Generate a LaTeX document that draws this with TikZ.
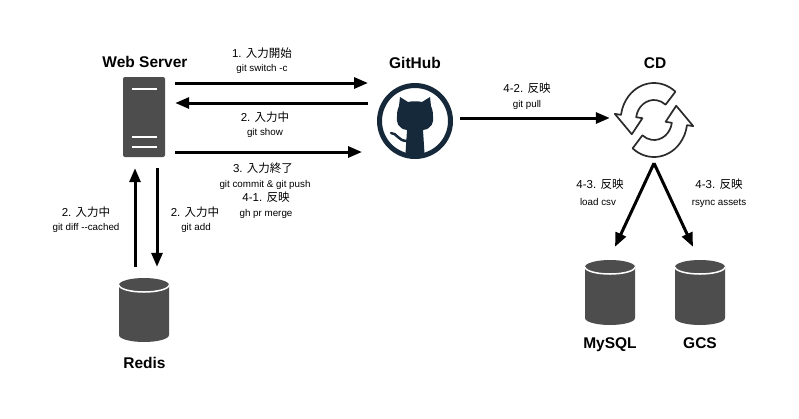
\documentclass[tikz,border=0pt]{standalone}
\usepackage{fontspec}
\setmainfont{Liberation Sans}
\newfontfamily\jpfont{Noto Sans CJK JP}
\usetikzlibrary{arrows.meta}
\definecolor{iconGray}{HTML}{4D4D4D}
\definecolor{ghNavy}{HTML}{16293A}
\definecolor{syncLine}{HTML}{2B2B2B}
\newcommand{\ja}[1]{{\jpfont #1}}

\tikzset{
  namelabel/.style={font=\bfseries\fontsize{15.5}{18}\selectfont, inner sep=0pt, text height=11pt, text depth=0pt},
  steplabel/.style={font=\fontsize{11.5}{14}\selectfont, inner sep=0pt, text height=8.3pt, text depth=0pt},
  cmdlabel/.style={font=\fontsize{9.8}{12}\selectfont, inner sep=0pt, text height=7pt, text depth=0pt},
  arr/.style={line width=3pt, -{Triangle[length=14pt,width=11pt]}},
  serverbox/.style={fill=iconGray, rounded corners=2pt, minimum width=42pt, minimum height=80pt, inner sep=0pt,
    path picture={
      \draw[white, line width=2.5pt] ([xshift=9pt,yshift=-12pt]path picture bounding box.north west) -- ++(25pt,0pt);
      \draw[white, line width=2.5pt] ([xshift=9pt,yshift=20pt]path picture bounding box.south west) -- ++(25pt,0pt);
      \draw[white, line width=2.5pt] ([xshift=9pt,yshift=10pt]path picture bounding box.south west) -- ++(25pt,0pt);
    }},
  dbbox/.style={minimum width=50pt, minimum height=64pt, inner sep=0pt,
    path picture={
      \fill[iconGray] ([yshift=-7pt]path picture bounding box.north west) -- ([yshift=7pt]path picture bounding box.south west)
        arc[start angle=180, end angle=360, x radius=25pt, y radius=7pt] -- ([yshift=-7pt]path picture bounding box.north east)
        arc[start angle=0, end angle=180, x radius=25pt, y radius=7pt] -- cycle;
      \draw[white, line width=1.5pt] ([yshift=-7pt]path picture bounding box.north west)
        arc[start angle=180, end angle=360, x radius=25pt, y radius=7pt];
    }},
  ghlogo/.style={circle, draw=ghNavy, line width=5pt, minimum size=71pt, inner sep=0pt,
    path picture={
      \fill[ghNavy, shift={(path picture bounding box.center)}, xshift=-2pt]
        (-8pt,-9pt) .. controls (-17pt,-8pt) and (-19pt,-1pt) .. (-18pt,5pt)
        .. controls (-18pt,10pt) and (-17pt,13pt) .. (-16pt,15pt) -- (-15pt,24pt) -- (-7pt,19pt)
        .. controls (-3pt,20pt) and (3pt,20pt) .. (7pt,19pt) -- (15pt,24pt) -- (16pt,15pt)
        .. controls (17pt,13pt) and (18pt,10pt) .. (18pt,5pt)
        .. controls (19pt,-1pt) and (17pt,-8pt) .. (8pt,-9pt) -- (10pt,-40pt) -- (-10pt,-40pt) -- cycle;
      \draw[ghNavy, line width=2.5pt, line cap=round, shift={(path picture bounding box.center)}, xshift=-2pt]
        (-24pt,-12pt) .. controls (-18pt,-12pt) and (-17pt,-20pt) .. (-8pt,-20pt);
    }},
  syncicon/.style={circle, minimum size=80pt, inner sep=0pt},
  syncarrow/.style={fill=white, draw=syncLine, line width=1.7pt, line join=round},
}

\begin{document}
\begin{tikzpicture}[x=1pt, y=1pt]
  \fill[white] (0,0) rectangle (799,-418);

  \node[namelabel] (wslabel) at (145,-62) {Web Server};
  \node[serverbox] (server) at (144,-117) {};
  \node[namelabel] (ghlabel) at (415,-63) {GitHub};
  \node[ghlogo] (github) at (415,-121) {};
  \node[namelabel] (cdlabel) at (655,-63) {CD};
  \node[syncicon] (cd) at (654,-120) {};
  \begin{scope}[shift={(cd.center)}, xscale=0.9]
    \filldraw[syncarrow] (50:37) arc[start angle=50, end angle=172, radius=37] -- (172:44) -- (210:28.5)
      -- (172:13) -- (172:20) arc[start angle=172, end angle=50, radius=20] -- cycle;
    \filldraw[syncarrow] (230:37) arc[start angle=230, end angle=352, radius=37] -- (352:44) -- (30:28.5)
      -- (352:13) -- (352:20) arc[start angle=352, end angle=230, radius=20] -- cycle;
  \end{scope}
  \node[dbbox] (redis) at (144,-310) {};
  \node[namelabel] (redislabel) at (144.5,-363) {Redis};
  \node[dbbox, minimum height=65pt] (mysql) at (610,-292.5) {};
  \node[namelabel] (mysqllabel) at (610,-343) {MySQL};
  \node[dbbox, minimum height=65pt] (gcs) at (700,-292.5) {};
  \node[namelabel] (gcslabel) at (700,-343) {GCS};

  \draw[arr] ([xshift=10pt,yshift=34pt]server.east) -- ([xshift=-9pt,yshift=38pt]github.west);
  \draw[arr] ([xshift=-9pt,yshift=18pt]github.west) -- ([xshift=10pt,yshift=14pt]server.east);
  \draw[arr] ([xshift=10pt,yshift=-35pt]server.east) -- ([xshift=-15pt,yshift=-31pt]github.west);
  \draw[arr] ([xshift=7pt,yshift=3pt]github.east) -- ([xshift=-4pt,yshift=2pt]cd.west);
  \draw[arr] ([xshift=-9pt,yshift=11pt]redis.north) -- ([xshift=-9pt,yshift=-11pt]server.south);
  \draw[arr] ([xshift=13pt,yshift=-11pt]server.south) -- ([xshift=13pt,yshift=11pt]redis.north);
  \draw[arr] ([yshift=-3pt]cd.south) -- ([xshift=5pt,yshift=13pt]mysql.north);
  \draw[arr] ([yshift=-3pt]cd.south) -- ([xshift=-7pt,yshift=13pt]gcs.north);

  \node[steplabel] (step1) at (262,-53) {1. \ja{入力開始}};
  \node[cmdlabel] (cmd1) at (262,-68) {git switch -c};
  \node[steplabel] (step2) at (265,-117) {2. \ja{入力中}};
  \node[cmdlabel] (cmd2) at (265,-132) {git show};
  \node[steplabel] (step3) at (263,-168) {3. \ja{入力終了}};
  \node[cmdlabel] (cmd3) at (265,-184) {git commit \& git push};
  \node[steplabel] (step41) at (266,-197) {4-1. \ja{反映}};
  \node[cmdlabel] (cmd41) at (266,-213) {gh pr merge};
  \node[steplabel] (step42) at (527,-88) {4-2. \ja{反映}};
  \node[cmdlabel] (cmd42) at (527,-104) {git pull};
  \node[steplabel] (step2l) at (86,-212) {2. \ja{入力中}};
  \node[cmdlabel] (cmd2l) at (86,-227) {git diff -{}-cached};
  \node[steplabel] (step2r) at (195,-212) {2. \ja{入力中}};
  \node[cmdlabel] (cmd2r) at (196,-227) {git add};
  \node[steplabel] (step43l) at (600,-184) {4-3. \ja{反映}};
  \node[cmdlabel] (cmd43l) at (598,-202) {load csv};
  \node[steplabel] (step43r) at (719,-184) {4-3. \ja{反映}};
  \node[cmdlabel] (cmd43r) at (719,-202) {rsync assets};
\end{tikzpicture}
\end{document}
